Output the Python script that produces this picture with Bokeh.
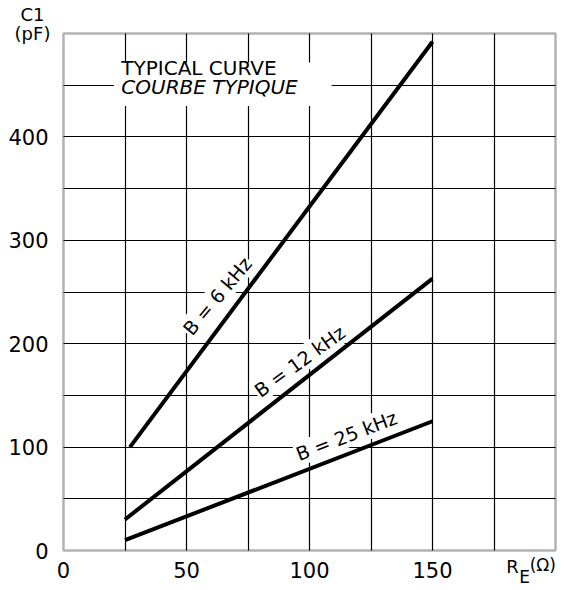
from bokeh.plotting import figure
from bokeh.models import Range1d, FixedTicker, Label, BoxAnnotation
from bokeh.embed import file_html
from bokeh.resources import INLINE

# Data
re_ohm = [25, 150]
c1_6khz_x = [27, 150]
c1_6khz = [100, 492]
c1_12khz = [30, 263]
c1_25khz = [10, 125]

x_ticks = [0, 50, 100, 150]
y_ticks = [0, 100, 200, 300, 400]
x_grid = [25, 50, 75, 100, 125, 150, 175]
y_grid = [50, 100, 150, 200, 250, 300, 350, 400, 450]
x_lim = (0, 200)
y_lim = (0, 500)

FONT = "DejaVu Sans"
W, H = 572, 590
X0, Y0, SX, SY = 63.0, 550.0, 2.46, 1.034   # pixel position of (0,0) and pixels per unit

# the frame covers the whole canvas; the chart box is drawn inside it
p = figure(width=W, height=H, output_backend="svg", toolbar_location=None,
           x_range=Range1d(-X0 / SX, (W - X0) / SX),
           y_range=Range1d(-(H - Y0) / SY, Y0 / SY),
           min_border=0)
p.background_fill_color = "white"
p.border_fill_color = "white"
p.outline_line_color = None

for ax in (p.xaxis[0], p.yaxis[0]):
    ax.fixed_location = 0
    ax.axis_line_color = None
    ax.major_tick_line_color = None
    ax.minor_tick_line_color = None
    ax.major_tick_out = 0
    ax.major_tick_in = 0
    ax.major_label_text_font = FONT
    ax.major_label_text_font_size = "21px"
    ax.major_label_text_color = "black"
p.xaxis[0].ticker = FixedTicker(ticks=x_ticks)
p.yaxis[0].ticker = FixedTicker(ticks=y_ticks)
p.xaxis[0].bounds = x_lim
p.yaxis[0].bounds = y_lim
p.xaxis[0].major_label_standoff = 11
p.yaxis[0].major_label_standoff = 15

p.xgrid[0].ticker = FixedTicker(ticks=x_grid)
p.ygrid[0].ticker = FixedTicker(ticks=y_grid)
for g in (p.xgrid[0], p.ygrid[0]):
    g.grid_line_color = "black"
    g.grid_line_width = 1.2
    g.grid_line_alpha = 1.0
try:
    p.xgrid[0].bounds = x_lim
    p.xgrid[0].cross_bounds = y_lim
    p.ygrid[0].bounds = y_lim
    p.ygrid[0].cross_bounds = x_lim
except AttributeError:
    p.xgrid[0].visible = False
    p.ygrid[0].visible = False
    p.segment(x0=x_grid, y0=[y_lim[0]] * len(x_grid), x1=x_grid, y1=[y_lim[1]] * len(x_grid),
              line_color="black", line_width=1.2)
    p.segment(x0=[x_lim[0]] * len(y_grid), y0=y_grid, x1=[x_lim[1]] * len(y_grid), y1=y_grid,
              line_color="black", line_width=1.2)

p.line(c1_6khz_x, c1_6khz, line_color="black", line_width=4)
p.line(re_ohm, c1_12khz, line_color="black", line_width=4)
p.line(re_ohm, c1_25khz, line_color="black", line_width=4)

# chart box
p.add_layout(BoxAnnotation(left=x_lim[0], right=x_lim[1], bottom=y_lim[0], top=y_lim[1],
                           fill_alpha=0, line_color="black", line_width=2.5))

# white area behind the caption
p.add_layout(BoxAnnotation(left=20.5, right=109, bottom=430, top=472,
                           fill_color="white", fill_alpha=1.0, line_color=None))
p.add_layout(Label(x=23.5, y=455, text="TYPICAL CURVE", text_font=FONT,
                   text_font_size="20px", text_color="black"))
p.add_layout(Label(x=23.5, y=437, text="COURBE TYPIQUE", text_font=FONT,
                   text_font_size="20px", text_font_style="italic", text_color="black"))

curve_labels = [("B = 6 kHz", 62.5, 246, 50), ("B = 12 kHz", 96, 183, 36), ("B = 25 kHz", 115, 111, 21)]
for txt, lx, ly, ang in curve_labels:
    p.add_layout(Label(x=lx, y=ly, text=txt, angle=ang, angle_units="deg",
                       text_align="center", text_baseline="middle",
                       text_font=FONT, text_font_size="19px", text_color="black",
                       background_fill_color="white", background_fill_alpha=1.0, padding=1))

# axis titles
p.add_layout(Label(x=-12.6, y=508, text="C1", text_align="center", text_font=FONT,
                   text_font_size="18px", text_color="black"))
p.add_layout(Label(x=-12.6, y=490, text="(pF)", text_align="center", text_font=FONT,
                   text_font_size="18px", text_color="black"))
p.add_layout(Label(x=180, y=-26, text="R", text_font=FONT,
                   text_font_size="18px", text_color="black"))
p.add_layout(Label(x=185.3, y=-35, text="E", text_font=FONT,
                   text_font_size="17px", text_color="black"))
p.add_layout(Label(x=189.5, y=-24, text="(Ω)", text_font=FONT,
                   text_font_size="17px", text_color="black"))

open("out.html", "w").write(file_html(p, INLINE))
